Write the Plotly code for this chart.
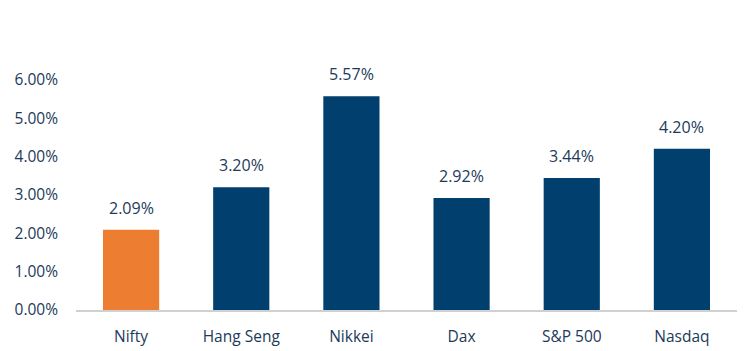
import plotly.graph_objects as go

categories = ["Nifty", "Hang Seng", "Nikkei", "Dax", "S&P 500", "Nasdaq"]
values = [0.0209, 0.0320, 0.0557, 0.0292, 0.0344, 0.0420]
bar_colors = ["#ED7D31", "#003F6E", "#003F6E", "#003F6E", "#003F6E", "#003F6E"]
tick_vals = [0, 0.01, 0.02, 0.03, 0.04, 0.05, 0.06]
tick_text = ["0.00%", "1.00%", "2.00%", "3.00%", "4.00%", "5.00%", "6.00%"]

text_color = "#1C3A5A"
font_family = "Open Sans, Liberation Sans, sans-serif"

fig = go.Figure()
fig.add_trace(go.Bar(
    x=categories, y=values, marker=dict(color=bar_colors, line=dict(width=0)),
    hoverinfo="skip",
))
for c, v in zip(categories, values):
    fig.add_annotation(x=c, y=v, text=f"{v*100:.2f}%", showarrow=False,
                       yanchor="bottom", yshift=9,
                       font=dict(size=16, color=text_color, family=font_family))

fig.update_layout(
    width=755, height=351,
    margin=dict(l=76, r=18, t=51, b=41),
    paper_bgcolor="white", plot_bgcolor="white",
    bargap=0.49, showlegend=False,
    font=dict(family=font_family, size=15, color=text_color),
)
fig.update_xaxes(showline=True, linecolor="#D0D0D0", linewidth=1.5, ticks="",
                 ticklabelstandoff=12, automargin=False,
                 tickfont=dict(size=15.5, color=text_color), showgrid=False)
fig.update_yaxes(range=[0, 0.0675], tickvals=tick_vals, ticktext=tick_text,
                 showgrid=False, zeroline=False, showline=False, ticks="",
                 ticklabelstandoff=17, automargin=False,
                 tickfont=dict(size=15.5, color=text_color))
fig.write_html("out.html")
